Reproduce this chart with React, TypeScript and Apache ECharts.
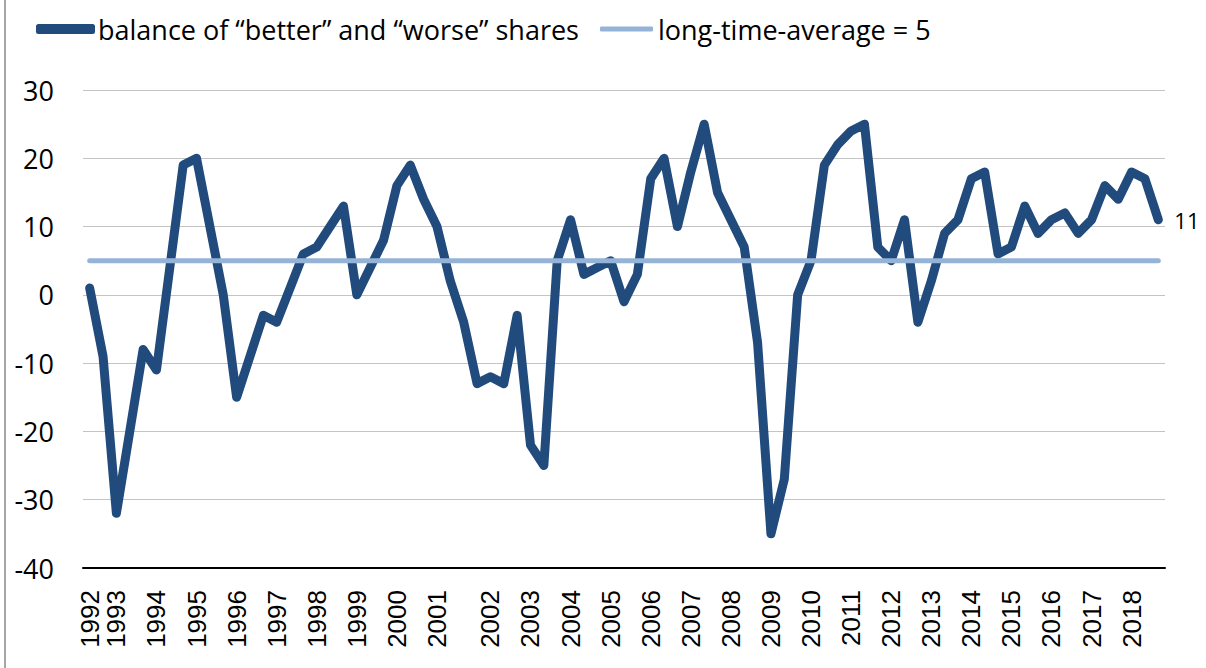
import React, { useEffect, useRef } from "react";
import * as echarts from "echarts";

const seriesName = "balance of \u201cbetter\u201d and \u201cworse\u201d shares";
const averageName = "long-time-average = 5";

// survey waves (3 per year; 1992 has 2, 2001 has 4)
const years = [
  1992, 1993, 1994, 1995, 1996, 1997, 1998, 1999, 2000, 2001, 2002, 2003, 2004,
  2005, 2006, 2007, 2008, 2009, 2010, 2011, 2012, 2013, 2014, 2015, 2016, 2017, 2018,
];
const yearStartIndex = [
  0, 2, 5, 8, 11, 14, 17, 20, 23, 26, 30, 33, 36,
  39, 42, 45, 48, 51, 54, 57, 60, 63, 66, 69, 72, 75, 78,
];

const balanceValues = [
  1, -9, -32, -20, -8, -11, 4, 19, 20, 10,
  0, -15, -9, -3, -4, 1, 6, 7, 10, 13,
  0, 4, 8, 16, 19, 14, 10, 2, -4, -13,
  -12, -13, -3, -22, -25, 5, 11, 3, 4, 5,
  -1, 3, 17, 20, 10, 18, 25, 15, 11, 7,
  -7, -35, -27, 0, 5, 19, 22, 24, 25, 7,
  5, 11, -4, 2, 9, 11, 17, 18, 6, 7,
  13, 9, 11, 12, 9, 11, 16, 14, 18, 17,
  11,
];

const averageValue = 5;

const yMin = -40;
const yMax = 30;
const yInterval = 10;

const DARK = "#214A7D";
const LIGHT = "#95B3D7";
const TEXT_FONT = "'Open Sans', 'Noto Sans', sans-serif";
const AXIS_FONT = "'Liberation Sans Narrow', 'Arial Narrow', 'Liberation Sans', Arial, sans-serif";

export default function App() {
  const ref = useRef<HTMLDivElement>(null);

  useEffect(() => {
    document.body.style.margin = "0";
    if (!ref.current) return;
    const chart = echarts.init(ref.current, null, { renderer: "svg" });

    const categories: string[] = [];
    const labelAt: Record<number, string> = {};
    yearStartIndex.forEach((s, k) => {
      labelAt[s] = String(years[k]);
    });
    let currentYear = years[0];
    let wave = 0;
    for (let i = 0; i < balanceValues.length; i++) {
      const k = yearStartIndex.indexOf(i);
      if (k >= 0) {
        currentYear = years[k];
        wave = 1;
      } else {
        wave += 1;
      }
      categories.push(`${currentYear}-${wave}`);
    }
    const avgData = categories.map(() => averageValue);

    chart.setOption({
      animation: false,
      backgroundColor: "#ffffff",
      graphic: [
        {
          type: "rect",
          left: 4,
          top: 0,
          shape: { width: 2, height: 668 },
          style: { fill: "#A6A6A6" },
          silent: true,
        },
      ],
      legend: [
        {
          data: [seriesName],
          left: 36,
          top: 14,
          padding: 0,
          icon: "roundRect",
          itemWidth: 59,
          itemHeight: 10,
          textStyle: {
            fontFamily: TEXT_FONT,
            fontSize: 27,
            color: "#000",
            lineHeight: 30,
            padding: [0, 0, 0, -2],
          },
          selectedMode: false,
        },
        {
          data: [averageName],
          left: 600,
          top: 14,
          padding: 0,
          icon: "roundRect",
          itemWidth: 53,
          itemHeight: 5,
          textStyle: {
            fontFamily: TEXT_FONT,
            fontSize: 27,
            color: "#000",
            lineHeight: 30,
          },
          selectedMode: false,
        },
      ],
      grid: {
        left: 83,
        right: 41,
        top: 90,
        bottom: 100,
        containLabel: false,
        outerBoundsMode: "none",
      },
      xAxis: {
        type: "category",
        data: categories,
        boundaryGap: true,
        axisLine: { show: true, onZero: false, lineStyle: { color: "#000", width: 2 } },
        axisTick: { show: false },
        splitLine: { show: false },
        axisLabel: {
          interval: 0,
          rotate: 90,
          margin: 22,
          fontSize: 26,
          fontFamily: AXIS_FONT,
          color: "#000",
          formatter: (_v: string, i: number) => labelAt[i] ?? "",
        },
      },
      yAxis: {
        type: "value",
        min: yMin,
        max: yMax,
        interval: yInterval,
        axisLine: { show: false },
        axisTick: { show: false },
        splitLine: { show: true, lineStyle: { color: "#C4C4C4", width: 1 } },
        axisLabel: {
          margin: 29,
          fontSize: 27,
          fontFamily: TEXT_FONT,
          color: "#000",
        },
      },
      series: [
        {
          name: seriesName,
          type: "line",
          data: balanceValues,
          showSymbol: false,
          symbol: "none",
          color: DARK,
          lineStyle: { color: DARK, width: 9, cap: "round", join: "round" },
          endLabel: {
            show: true,
            formatter: "{c}",
            distance: 16,
            color: "#000",
            fontSize: 22,
            fontFamily: TEXT_FONT,
          },
          z: 2,
        },
        {
          name: averageName,
          type: "line",
          data: avgData,
          showSymbol: false,
          symbol: "none",
          color: LIGHT,
          lineStyle: { color: LIGHT, width: 5, cap: "round", join: "round" },
          z: 3,
        },
      ],
    });

    return () => {
      chart.dispose();
    };
  }, []);

  return <div ref={ref} style={{ width: 1206, height: 668 }} />;
}
